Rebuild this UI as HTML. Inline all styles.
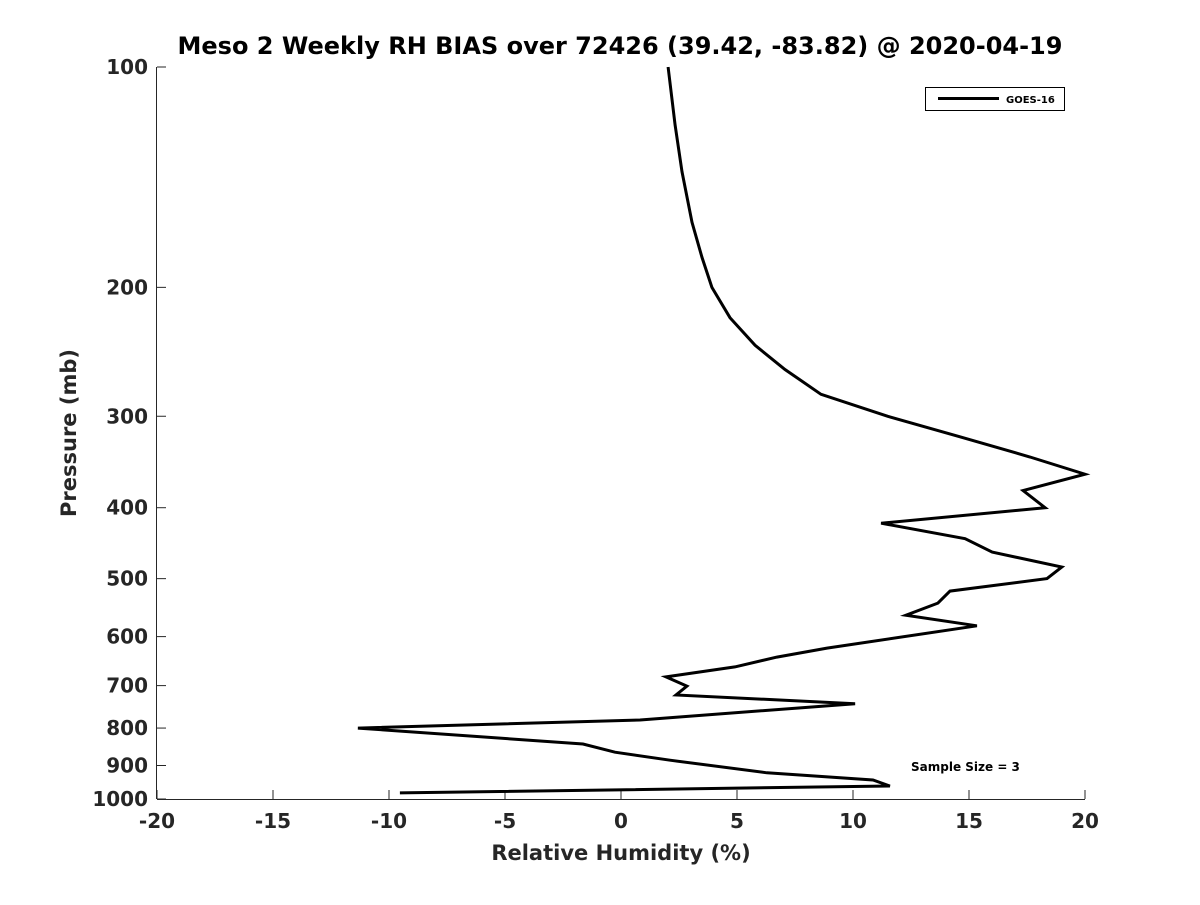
<!DOCTYPE html>
<html><head><meta charset="utf-8"><style>
body{margin:0;background:#fff;}
svg text{font-family:"DejaVu Sans","Liberation Sans",sans-serif;font-weight:bold;fill:#262626;}
</style></head><body>
<svg id="chart" width="1200" height="900" xmlns="http://www.w3.org/2000/svg">
<rect width="1200" height="900" fill="#fff"/>
<text x="620" y="54" font-size="24" text-anchor="middle" style="fill:#000">Meso 2 Weekly RH BIAS over 72426 (39.42, -83.82) @ 2020-04-19</text>
<g id="axes"></g>
<path id="series" fill="none" stroke="#000" stroke-width="3" stroke-linejoin="miter"/>
<g>
<rect x="925.5" y="87.5" width="139" height="23" fill="#fff" stroke="#000" stroke-width="1"/>
<line x1="938" y1="98.5" x2="999" y2="98.5" stroke="#000" stroke-width="3"/>
<text x="1006" y="103" font-size="10" style="fill:#000">GOES-16</text>
</g>
<text x="911" y="771" font-size="12" style="fill:#000">Sample Size = 3</text>
<text x="621" y="860" font-size="21" text-anchor="middle">Relative Humidity (%)</text>
<text transform="translate(76,433) rotate(-90)" font-size="21" text-anchor="middle">Pressure (mb)</text>
</svg>
<script>
const xTicks=[-20,-15,-10,-5,0,5,10,15,20];
const yTicks=[100,200,300,400,500,600,700,800,900,1000];
const rhBias=[2.03,2.33,2.63,3.06,3.49,3.92,4.70,5.78,7.07,8.62,11.5,14.61,17.63,20,17.33,18.28,11.21,14.83,16.0,19.0,18.36,14.18,13.66,12.28,15.34,8.88,6.72,4.91,1.94,2.84,2.37,10.09,0.82,-11.34,-1.64,-0.26,2.11,6.29,10.86,11.59,-9.53];
const pressure=[100,120,139,163,182,200,220,240,259,280,300,320,341,360,379,400,420,441,460,482,500,520,540,561,580,622,640,660,681,701,721,741,780,800,841,863,885,921,942,960,981];
const X0=157,X1=1085,Y0=67,Y1=799;
const xs=v=>X0+(v+20)/40*(X1-X0);
const ys=p=>Y0+Math.log10(p/100)*(Y1-Y0);
const NS="http://www.w3.org/2000/svg";
const ax=document.getElementById('axes');
function mk(t,a){const e=document.createElementNS(NS,t);for(const k in a)e.setAttribute(k,a[k]);ax.appendChild(e);return e;}
const xl=mk('line',{x1:X0,y1:Y1+0.5,x2:X1,y2:Y1+0.5,stroke:'#262626','stroke-width':1});


const yl=mk('line',{x1:X0-0.5,y1:Y0,x2:X0-0.5,y2:Y1,stroke:'#262626','stroke-width':1});


xTicks.forEach(v=>{const x=xs(v);
mk('line',{x1:x,y1:Y1,x2:x,y2:Y1-9,stroke:'#262626'});
const t=mk('text',{x:x,y:Y1+29,'font-size':20,'text-anchor':'middle'});t.textContent=v;

});
yTicks.forEach(p=>{const y=ys(p);
mk('line',{x1:X0,y1:y,x2:X0+9,y2:y,stroke:'#262626'});
const t=mk('text',{x:X0-9,y:y+7,'font-size':20,'text-anchor':'end'});t.textContent=p;

});
document.getElementById('series').setAttribute('d',rhBias.map((v,i)=>(i?'L':'M')+xs(v).toFixed(1)+' '+ys(pressure[i]).toFixed(1)).join(' '));
</script>
</body></html>
